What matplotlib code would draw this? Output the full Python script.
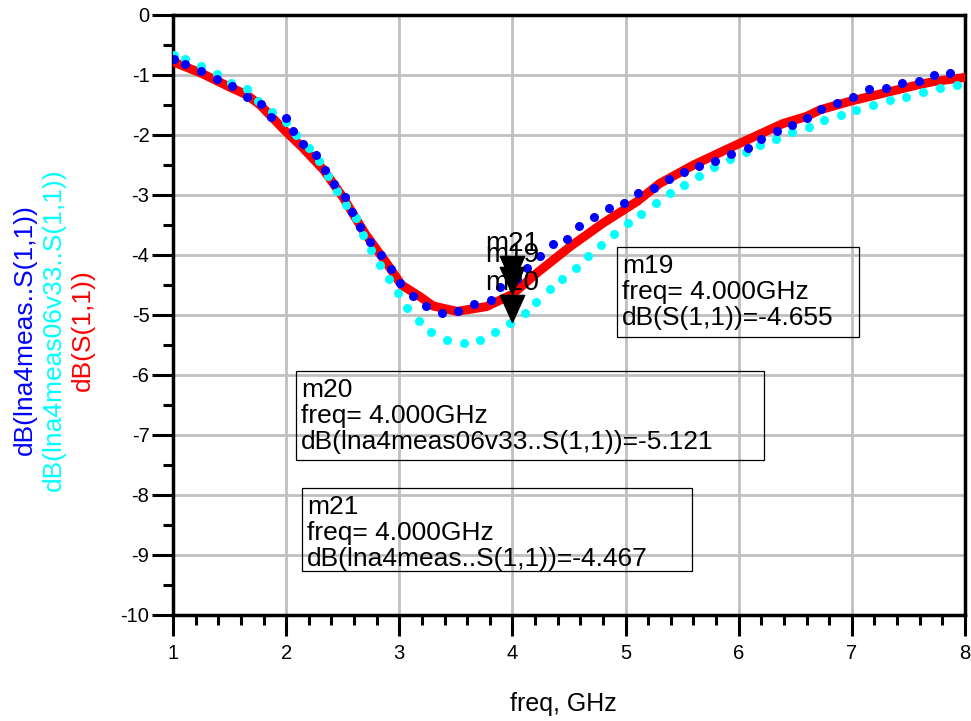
import matplotlib
matplotlib.use("Agg")
import matplotlib.pyplot as plt
from matplotlib.patches import Rectangle
from matplotlib.ticker import MultipleLocator

# Arial-like font
plt.rcParams['font.family'] = ['Liberation Sans', 'DejaVu Sans']
plt.rcParams['axes.unicode_minus'] = False

# 資料: dB(S(1,1)) (simulation, red line)
freq_sim = [1.0, 1.25, 1.5, 1.65, 1.77, 1.97, 2.15, 2.33, 2.5, 2.7, 2.89, 3.02,
            3.18, 3.3, 3.51, 3.77, 4.0, 4.21, 4.51, 4.8, 5.1, 5.3, 5.6, 5.95,
            6.39, 6.6, 6.72, 6.98, 7.22, 7.57, 7.72, 8.0]
db_sim = [-0.78, -0.97, -1.2, -1.33, -1.5, -1.89, -2.22, -2.58, -3.03, -3.65, -4.14, -4.5,
          -4.69, -4.85, -4.94, -4.86, -4.655, -4.31, -3.86, -3.47, -3.11, -2.81, -2.5, -2.19,
          -1.81, -1.69, -1.58, -1.44, -1.33, -1.17, -1.11, -1.04]

# dB(lna4meas..S(1,1)) (blue dots)
freq_meas = [1.01, 1.11, 1.25, 1.39, 1.52, 1.65, 1.78, 1.87, 2.0, 2.06, 2.15, 2.26,
             2.34, 2.42, 2.52, 2.585, 2.65, 2.74, 2.84, 2.93, 3.01, 3.12, 3.24, 3.375,
             3.52, 3.66, 3.81, 3.89, 4.04, 4.13, 4.24, 4.36, 4.48, 4.59, 4.72, 4.85,
             4.99, 5.11, 5.25, 5.38, 5.52, 5.65, 5.79, 5.93, 6.08, 6.2, 6.34, 6.47,
             6.6, 6.73, 6.87, 7.01, 7.15, 7.3, 7.44, 7.59, 7.73, 7.87]
db_meas = [-0.74, -0.82, -0.93, -1.07, -1.19, -1.36, -1.48, -1.7, -1.71, -1.93, -2.15, -2.34,
           -2.58, -2.82, -3.04, -3.29, -3.54, -3.78, -4.0, -4.24, -4.47, -4.68, -4.85, -4.96,
           -4.93, -4.81, -4.75, -4.53, -4.4, -4.21, -4.02, -3.82, -3.73, -3.51, -3.37, -3.22,
           -3.14, -2.96, -2.88, -2.73, -2.62, -2.52, -2.43, -2.31, -2.22, -2.06, -1.94, -1.84,
           -1.72, -1.57, -1.46, -1.37, -1.24, -1.22, -1.14, -1.1, -1.0, -0.96]

# dB(lna4meas06v33..S(1,1)) (cyan dots)
freq_meas06 = [1.01, 1.11, 1.25, 1.39, 1.51, 1.65, 1.75, 1.875, 2.0, 2.09, 2.2, 2.29,
               2.37, 2.45, 2.53, 2.62, 2.68, 2.75, 2.83, 2.91, 2.99, 3.07, 3.17, 3.28,
               3.42, 3.57, 3.71, 3.85, 3.98, 4.11, 4.21, 4.33, 4.44, 4.56, 4.67, 4.78,
               4.9, 5.02, 5.14, 5.27, 5.39, 5.52, 5.65, 5.78, 5.92, 6.06, 6.19, 6.33,
               6.47, 6.62, 6.75, 6.9, 7.04, 7.19, 7.34, 7.48, 7.63, 7.78, 7.93]
db_meas06 = [-0.67, -0.73, -0.85, -0.98, -1.13, -1.24, -1.43, -1.62, -1.78, -2.0, -2.21, -2.43,
             -2.68, -2.93, -3.17, -3.39, -3.66, -3.91, -4.16, -4.4, -4.64, -4.88, -5.1, -5.29,
             -5.42, -5.47, -5.42, -5.28, -5.14, -4.97, -4.78, -4.57, -4.4, -4.22, -4.02, -3.83,
             -3.65, -3.46, -3.31, -3.14, -2.97, -2.83, -2.68, -2.53, -2.4, -2.29, -2.17, -2.06,
             -1.95, -1.86, -1.75, -1.67, -1.58, -1.5, -1.42, -1.36, -1.28, -1.21, -1.16]

# markers
marker_names = ['m21', 'm19', 'm20']
marker_freq = [4.0, 4.0, 4.0]
marker_db = [-4.467, -4.655, -5.121]
box_traces = ['dB(S(1,1))', 'dB(lna4meas06v33..S(1,1))', 'dB(lna4meas..S(1,1))']
box_names = ['m19', 'm20', 'm21']
box_values = [-4.655, -5.121, -4.467]

x_ticks = [1, 2, 3, 4, 5, 6, 7, 8]
y_ticks = [0, -1, -2, -3, -4, -5, -6, -7, -8, -9, -10]

W, H = 971, 721


def fx(px):
    return px / W


def fy(py):
    return 1 - py / H


fig = plt.figure(figsize=(W / 100, H / 100), dpi=100)
ax = fig.add_axes([fx(173), fy(615), (965 - 173) / W, 600 / H])

ax.plot(freq_sim, db_sim, color='#ff0000', lw=6.5, solid_joinstyle='round', zorder=3)
ax.plot(freq_meas06, db_meas06, 'o', color='#00ffff', ms=6.5, mew=0, zorder=4)
ax.plot(freq_meas, db_meas, 'o', color='#0000ff', ms=6.5, mew=0, zorder=5)

# 下向き三角 (tip at the data point)
tri = [(0, 0), (-0.45, 1), (0.45, 1), (0, 0)]
for name, f, v in zip(marker_names, marker_freq, marker_db):
    ax.plot([f], [v], marker=tri, ms=39, color='black', ls='none', zorder=6)
    ax.annotate(name, (f, v), xytext=(0, 23), textcoords='offset points',
                ha='center', va='baseline', fontsize=20, zorder=7)

ax.set_xlim(1, 8)
ax.set_ylim(-10, 0)
ax.set_xticks(x_ticks)
ax.set_xticklabels([str(v) for v in x_ticks])
ax.set_yticks(y_ticks)
ax.set_yticklabels([str(v) for v in y_ticks])
ax.xaxis.set_minor_locator(MultipleLocator(0.2))
ax.yaxis.set_minor_locator(MultipleLocator(0.5))
ax.tick_params(which='major', direction='out', length=15, width=2.2, labelsize=14.5, pad=6)
ax.tick_params(axis='y', which='major', pad=2)
ax.tick_params(which='minor', direction='out', length=7, width=2.2)
ax.grid(True, which='major', color='#c0c0c0', lw=2)
ax.set_axisbelow(True)
for s in ax.spines.values():
    s.set_linewidth(2.5)

# marker boxes
boxes = [(617, 247, 859, 337), (296, 371, 764, 460), (302, 488, 692, 571)]
for (x0, y0, x1, y1), name, trace, val in zip(boxes, box_names, box_traces, box_values):
    fig.patches.append(Rectangle((fx(x0), fy(y1)), (x1 - x0) / W, (y1 - y0) / H,
                                 transform=fig.transFigure, fill=False,
                                 edgecolor='black', lw=0.9, zorder=8))
    lines = [name, 'freq= 4.000GHz', f'{trace}={val:.3f}']
    for i, line in enumerate(lines):
        fig.text(fx(x0 + 5), fy(y0 + 26 + 26 * i), line, fontsize=19,
                 ha='left', va='baseline', zorder=9)

# axis labels
fig.text(fx(563), fy(711), 'freq, GHz', fontsize=18, ha='center', va='baseline')
fig.text(fx(25), fy(330), 'dB(lna4meas..S(1,1))', color='#0000ff', fontsize=19,
         rotation=90, ha='center', va='center')
fig.text(fx(54), fy(330), 'dB(lna4meas06v33..S(1,1))', color='#00ffff', fontsize=19,
         rotation=90, ha='center', va='center')
fig.text(fx(83), fy(330), 'dB(S(1,1))', color='#ff0000', fontsize=19,
         rotation=90, ha='center', va='center')

fig.savefig('out.png', dpi=100)
